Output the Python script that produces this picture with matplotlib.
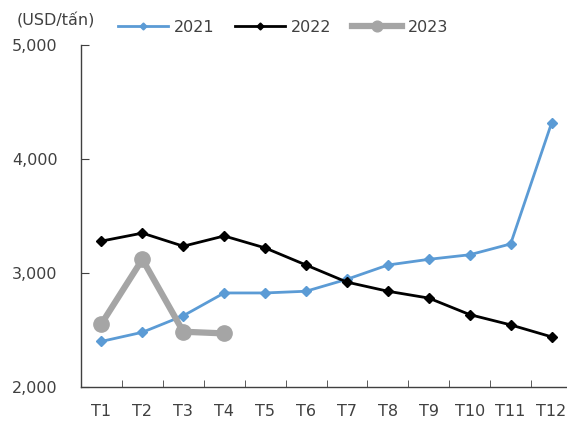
import matplotlib
matplotlib.use("Agg")
import matplotlib.pyplot as plt

months = ["T1", "T2", "T3", "T4", "T5", "T6", "T7", "T8", "T9", "T10", "T11", "T12"]
s2021 = [2400, 2480, 2625, 2825, 2825, 2840, 2945, 3070, 3120, 3160, 3255, 4315]
s2022 = [3280, 3350, 3235, 3325, 3220, 3070, 2920, 2840, 2780, 2635, 2545, 2440]
s2023 = [2555, 3120, 2485, 2470]
yticks = [2000, 3000, 4000, 5000]

plt.rcParams['font.family'] = ['DejaVu Sans']
fig = plt.figure(figsize=(5.67, 4.21), dpi=100)
ax = fig.add_axes([81/567, 34/421, 491/567, 342/421])

x = list(range(len(months)))
l1, = ax.plot(x, s2021, color="#5B9BD5", lw=2, marker="D", ms=5, label="2021", zorder=3)
l2, = ax.plot(x, s2022, color="black", lw=2, marker="D", ms=5, label="2022", zorder=3)
l3, = ax.plot(x[:len(s2023)], s2023, color="#A5A5A5", lw=4.5, marker="o", ms=11, label="2023", zorder=4)

ax.set_xlim(-0.5, len(months) - 0.5)
ax.set_ylim(2000, 5000)
ax.set_yticks(yticks)
ax.set_yticklabels([f"{v:,}" for v in yticks], fontsize=11.5, color="#404040")
ax.set_xticks(x)
ax.set_xticklabels(months, fontsize=11.5, color="#404040")
ax.set_xticks([i + 0.5 for i in x], minor=True)
ax.tick_params(axis='x', which='major', length=0, pad=12)
ax.tick_params(axis='x', which='minor', direction='in', length=5, color="#404040")
ax.tick_params(axis='y', direction='in', length=6, color="#404040", pad=17)
for s in ["top", "right"]:
    ax.spines[s].set_visible(False)
for s in ["left", "bottom"]:
    ax.spines[s].set_color("#404040")
    ax.spines[s].set_linewidth(1)

fig.text(56/567, 1 - 20/421, "(USD/tấn)", fontsize=11.5, color="#404040", ha="center", va="center")
fig.legend(handles=[l1, l2, l3], loc="center left", bbox_to_anchor=(118/567, 1 - 27/421),
           ncol=3, frameon=False, fontsize=11.5, handlelength=3.1, handletextpad=0.4,
           columnspacing=1.3, borderpad=0, borderaxespad=0, markerscale=0.7,
           labelcolor="#404040")

fig.savefig("out.png", dpi=100)
